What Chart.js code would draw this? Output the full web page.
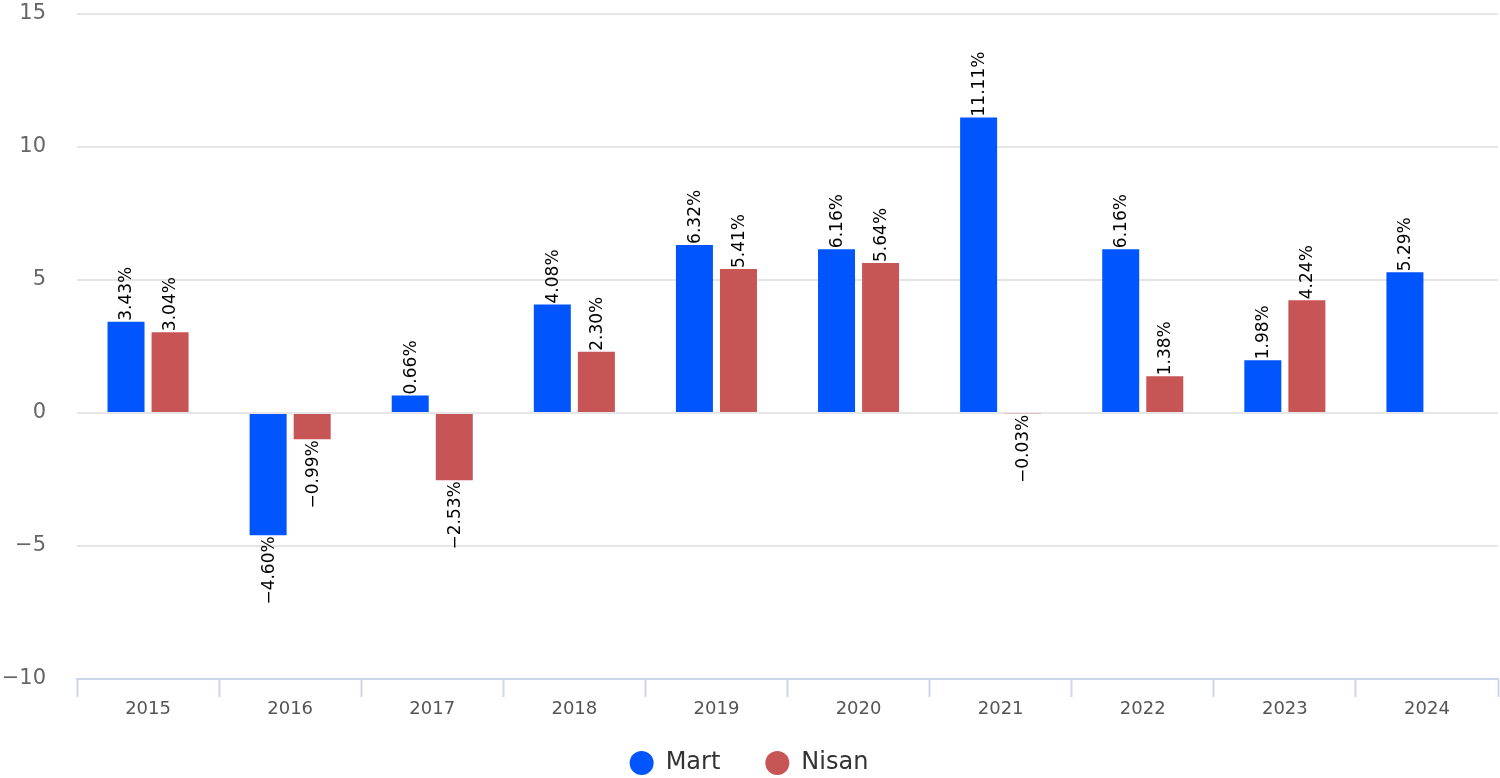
<!DOCTYPE html>
<html>
<head>
<meta charset="utf-8">
<script src="https://cdn.jsdelivr.net/npm/chart.js@4.4.1/dist/chart.umd.min.js"></script>
<style>
  body { margin: 0; background: #fff; }
  #wrap { width: 1500px; height: 778px; position: relative; }
</style>
</head>
<body>
<div id="wrap"><canvas id="grafico"></canvas></div>
<script>
// dados
const anos = ["2015", "2016", "2017", "2018", "2019", "2020", "2021", "2022", "2023", "2024"];
const mart = [3.43, -4.60, 0.66, 4.08, 6.32, 6.16, 11.11, 6.16, 1.98, 5.29];
const nisan = [3.04, -0.99, -2.53, 2.30, 5.41, 5.64, -0.03, 1.38, 4.24, null];
const yTicks = [-10, -5, 0, 5, 10, 15];

const menos = s => String(s).replace("-", "\u2212");

// rótulos girados em cima/baixo das barras
const rotulos = {
  id: "rotulos",
  afterDatasetsDraw(chart) {
    const ctx = chart.ctx;
    ctx.save();
    ctx.font = "17px 'DejaVu Sans'";
    ctx.fillStyle = "#000";
    ctx.textBaseline = "middle";
    chart.data.datasets.forEach((ds, i) => {
      const meta = chart.getDatasetMeta(i);
      meta.data.forEach((bar, j) => {
        const v = ds.data[j];
        if (v === null || v === undefined) return;
        const txt = menos(v.toFixed(2)) + "%";
        ctx.save();
        ctx.translate(bar.x, v >= 0 ? bar.y - 1 : bar.y + 1);
        ctx.rotate(-Math.PI / 2);
        ctx.textAlign = v >= 0 ? "left" : "right";
        ctx.fillText(txt, 0, 1);
        ctx.restore();
      });
    });
    ctx.restore();
  }
};

const ctx = document.getElementById("grafico").getContext("2d");
const myChart = new Chart(ctx, {
  type: "bar",
  data: {
    labels: anos,
    datasets: [
      { label: "Mart", data: mart, backgroundColor: "#0055ff", categoryPercentage: 0.62, barPercentage: 0.84 },
      { label: "Nisan", data: nisan, backgroundColor: "#c85555", categoryPercentage: 0.62, barPercentage: 0.84 }
    ]
  },
  options: {
    responsive: true,
    maintainAspectRatio: false,
    animation: false,
    layout: { padding: { top: 0, right: 2, bottom: -7, left: 0 } },
    plugins: {
      tooltip: { enabled: false },
      legend: {
        position: "bottom",
        labels: {
          usePointStyle: true,
          pointStyle: "circle",
          boxHeight: 17,
          pointStyleWidth: 24,
          padding: 45,
          color: "#333",
          font: { family: "'DejaVu Sans'", size: 24 }
        }
      }
    },
    scales: {
      x: {
        grid: { offset: true, drawOnChartArea: false, drawTicks: true, tickLength: 18, tickColor: "#ccd6eb", tickWidth: 2 },
        border: { color: "#ccd6eb", width: 2 },
        ticks: { color: "#555", padding: 2, font: { family: "'DejaVu Sans'", size: 18 } },
        afterFit(scale) {
          scale.height = 27;
          scale._computeLabelArea = () => undefined; // não cortar os rótulos
        }
      },
      y: {
        min: -10,
        max: 15,
        afterBuildTicks(scale) { scale.ticks = yTicks.map(v => ({ value: v })); },
        grid: { color: "#e6e6e6", lineWidth: 2, drawTicks: false },
        border: { display: false },
        ticks: {
          color: "#666",
          padding: 31,
          font: { family: "'DejaVu Sans'", size: 21 },
          callback: v => menos(v)
        },
        afterFit(scale) {
          scale.width = 77;
          scale.paddingTop = 14;
          scale.paddingBottom = 0;
        }
      }
    }
  },
  plugins: [rotulos]
});
</script>
</body>
</html>
